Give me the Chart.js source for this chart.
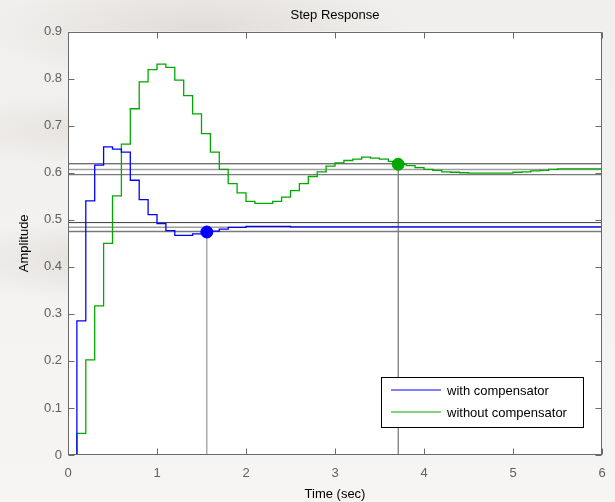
<!DOCTYPE html>
<html>
<head>
<meta charset="utf-8">
<script src="https://cdn.jsdelivr.net/npm/chart.js@4"></script>
<style>
html,body{margin:0;padding:0;}
body{width:615px;height:502px;overflow:hidden;
background:
 radial-gradient(ellipse 260px 60px at 120px 260px, rgba(200,195,190,0.45), rgba(255,255,255,0) 70%),
 radial-gradient(ellipse 300px 80px at 200px 30px, rgba(190,185,180,0.35), rgba(255,255,255,0) 70%),
 radial-gradient(ellipse 200px 50px at 80px 130px, rgba(205,200,195,0.35), rgba(255,255,255,0) 70%),
 linear-gradient(180deg,#f1efed,#f6f5f4);}
canvas{display:block;}
</style>
</head>
<body>
<canvas id="c" width="615" height="502"></canvas>
<script>
// ---- data ----
const timeSec = [0,0.1,0.2,0.3,0.4,0.5,0.6,0.7,0.8,0.9,1.0,1.1,1.2,1.3,1.4,1.5,1.6,1.7,1.8,1.9,2.0,2.1,2.2,2.3,2.4,2.5,2.6,2.7,2.8,2.9,3.0,3.1,3.2,3.3,3.4,3.5,3.6,3.7,3.8,3.9,4.0,4.1,4.2,4.3,4.4,4.5,4.6,4.7,4.8,4.9,5.0,5.1,5.2,5.3,5.4,5.5,5.6,5.7,5.8,5.9,6.0];
const withComp = [0,0.285,0.540,0.616,0.655,0.650,0.644,0.584,0.543,0.511,0.492,0.477,0.467,0.467,0.470,0.470,0.476,0.480,0.484,0.484,0.486,0.486,0.486,0.486,0.486,0.485,0.485,0.485,0.485,0.485,0.485,0.485,0.485,0.485,0.485,0.485,0.485,0.485,0.485,0.485,0.485,0.485,0.485,0.485,0.485,0.485,0.485,0.485,0.485,0.485,0.485,0.485,0.485,0.485,0.485,0.485,0.485,0.485,0.485,0.485,0.485];
const withoutComp = [0,0.046,0.202,0.317,0.450,0.551,0.661,0.736,0.793,0.819,0.831,0.824,0.797,0.764,0.725,0.683,0.644,0.607,0.577,0.557,0.539,0.535,0.535,0.539,0.548,0.562,0.577,0.592,0.602,0.614,0.621,0.626,0.629,0.633,0.631,0.629,0.624,0.618,0.615,0.611,0.607,0.605,0.602,0.601,0.600,0.599,0.599,0.599,0.599,0.599,0.601,0.602,0.604,0.605,0.607,0.608,0.608,0.608,0.608,0.608,0.608];
// settling bands [upper, final, lower]
const bandWith = [0.494, 0.484, 0.475];
const bandWithout = [0.619, 0.607, 0.596];
// settling-time markers [time, amplitude]
const markWith = [1.56, 0.474];
const markWithout = [3.71, 0.618];
const xTicks = [0,1,2,3,4,5,6];
const yTicks = [0,0.1,0.2,0.3,0.4,0.5,0.6,0.7,0.8,0.9];
const seriesNames = ['with compensator','without compensator'];
const seriesColors = ['#0000ff','#00a800'];

const pts = (ys) => timeSec.map((t,i)=>({x:t,y:ys[i]}));
const hline = (y,color,w) => ({data:[{x:0,y:y},{x:6,y:y}],borderColor:color,borderWidth:w,pointRadius:0,fill:false,order:5});
const bandStyles = [['#3a3a3a',1],['#a0a0a0',1.6],['#7a7a7a',1.4]];

const datasets = [];
bandWithout.forEach((y,i)=>datasets.push(hline(y,bandStyles[i][0],bandStyles[i][1])));
bandWith.forEach((y,i)=>datasets.push(hline(y,bandStyles[i][0],bandStyles[i][1])));
datasets.push({data:[{x:markWith[0],y:0},{x:markWith[0],y:markWith[1]}],borderColor:'#808080',borderWidth:1,pointRadius:0,order:5});
datasets.push({data:[{x:markWithout[0],y:0},{x:markWithout[0],y:markWithout[1]}],borderColor:'#555555',borderWidth:1,pointRadius:0,order:5});
datasets.push({label:seriesNames[1],data:pts(withoutComp),stepped:'before',borderColor:seriesColors[1],borderWidth:1.3,pointRadius:0,fill:false,order:2});
datasets.push({label:seriesNames[0],data:pts(withComp),stepped:'before',borderColor:seriesColors[0],borderWidth:1.3,pointRadius:0,fill:false,order:1});
datasets.push({type:'scatter',data:[{x:markWith[0],y:markWith[1]}],backgroundColor:seriesColors[0],borderColor:seriesColors[0],pointRadius:6,order:0});
datasets.push({type:'scatter',data:[{x:markWithout[0],y:markWithout[1]}],backgroundColor:seriesColors[1],borderColor:seriesColors[1],pointRadius:6,order:0});

const FONT = '"Liberation Sans", Arial, sans-serif';

const bgPlugin = {
  id:'plotBg',
  beforeDraw(chart){
    const {ctx, chartArea:a} = chart;
    ctx.save(); ctx.fillStyle='#ffffff';
    ctx.fillRect(a.left,a.top,a.right-a.left,a.bottom-a.top);
    ctx.restore();
  }
};
const axesPlugin = {
  id:'matlabAxes',
  afterDatasetsDraw(chart){
    const {ctx, chartArea:a, scales} = chart;
    ctx.save();
    ctx.strokeStyle='#6a6a6a'; ctx.lineWidth=1;
    const L=Math.round(a.left)+0.5, R=Math.round(a.right)-0.5, T=Math.round(a.top)+0.5, B=Math.round(a.bottom)-0.5;
    ctx.strokeRect(L,T,R-L,B-T);
    ctx.beginPath();
    xTicks.forEach(v=>{
      const x=Math.round(scales.x.getPixelForValue(v))+0.5;
      ctx.moveTo(x,B); ctx.lineTo(x,B-6);
      ctx.moveTo(x,T); ctx.lineTo(x,T+6);
    });
    yTicks.forEach(v=>{
      const y=Math.round(scales.y.getPixelForValue(v))+0.5;
      ctx.moveTo(L,y); ctx.lineTo(L+6,y);
      ctx.moveTo(R,y); ctx.lineTo(R-6,y);
    });
    ctx.stroke();
    // legend
    const bx=381.5, by=377.5, bw=202, bh=50;
    ctx.fillStyle='#ffffff'; ctx.fillRect(bx,by,bw,bh);
    ctx.strokeStyle='#000000'; ctx.lineWidth=1; ctx.strokeRect(bx,by,bw,bh);
    ctx.font='13px '+FONT; ctx.textBaseline='middle'; ctx.textAlign='left';
    [0,1].forEach(i=>{
      const y=by+12.5+i*22;
      ctx.strokeStyle=seriesColors[i]; ctx.lineWidth=1;
      ctx.beginPath(); ctx.moveTo(391,y); ctx.lineTo(441,y); ctx.stroke();
      ctx.fillStyle='#000000'; ctx.fillText(seriesNames[i],447,y+1);
    });
    ctx.restore();
  }
};

new Chart(document.getElementById('c'),{
  type:'line',
  data:{datasets},
  plugins:[bgPlugin,axesPlugin],
  options:{
    responsive:false, animation:false,
    layout:{padding:{left:14,right:13,top:0,bottom:0}},
    plugins:{
      legend:{display:false}, tooltip:{enabled:false},
      title:{display:true,fullSize:false,text:'Step Response',color:'#000',font:{family:FONT,size:13,weight:'normal'},padding:{top:8,bottom:8}}
    },
    scales:{
      x:{type:'linear',min:0,max:6,
        afterBuildTicks(s){s.ticks=xTicks.map(v=>({value:v}));},
        afterFit(s){s.height=47; s.paddingLeft=0; s.paddingRight=0;},
        grid:{display:false,drawTicks:false}, border:{display:false},
        ticks:{color:'#606060',font:{family:FONT,size:13},padding:11,maxRotation:0,callback:v=>String(v)},
        title:{display:true,text:'Time (sec)',color:'#000',font:{family:FONT,size:13},padding:{top:3,bottom:0}}
      },
      y:{type:'linear',min:0,max:0.9,
        afterBuildTicks(s){s.ticks=yTicks.map(v=>({value:v}));},
        afterFit(s){s.width=54;},
        grid:{display:false,drawTicks:false}, border:{display:false},
        ticks:{color:'#606060',font:{family:FONT,size:13},padding:6,callback:v=>String(Math.round(v*10)/10)},
        title:{display:true,text:'Amplitude',color:'#000',font:{family:FONT,size:13},padding:{top:3,bottom:0}}
      }
    }
  }
});
</script>
</body>
</html>
